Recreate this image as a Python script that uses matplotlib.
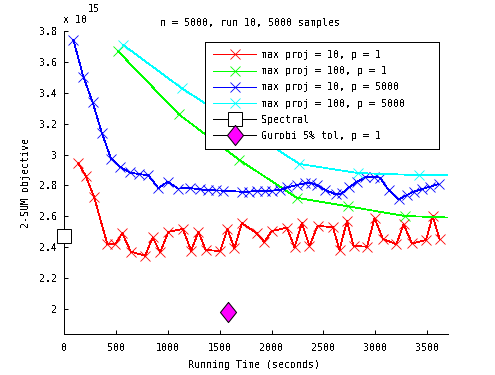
import matplotlib
matplotlib.use("Agg")
import matplotlib.pyplot as plt
from matplotlib.ticker import FuncFormatter

# values in units of 1e15
red_x = [138, 209, 289, 418, 492, 562, 643, 781, 855, 926, 1006, 1145, 1225, 1295,
         1366, 1504, 1575, 1642, 1714, 1858, 1929, 2003, 2148, 2221, 2292, 2365, 2443,
         2591, 2655, 2726, 2790, 2919, 2992, 3073, 3202, 3272, 3353, 3488, 3552, 3619]
red_y = [2.943, 2.863, 2.727, 2.419, 2.419, 2.490, 2.371, 2.345, 2.464, 2.367, 2.500,
         2.518, 2.377, 2.500, 2.382, 2.375, 2.516, 2.393, 2.556, 2.490, 2.435, 2.505,
         2.526, 2.399, 2.558, 2.408, 2.539, 2.529, 2.382, 2.569, 2.409, 2.403, 2.587,
         2.453, 2.419, 2.548, 2.425, 2.446, 2.602, 2.453]

green_x = [521, 1107, 1690, 2244, 2734, 3283, 3800]
green_y = [3.669, 3.260, 2.965, 2.720, 2.665, 2.602, 2.590]

blue_x = [90, 186, 275, 364, 453, 543, 632, 723, 810, 909, 998, 1099, 1215, 1307, 1384,
          1461, 1536, 1712, 1779, 1858, 1938, 2003, 2083, 2153, 2244, 2324, 2382, 2437,
          2517, 2620, 2678, 2748, 2823, 2903, 2983, 3047, 3127, 3224, 3305, 3368, 3449,
          3529, 3609]
blue_y = [3.742, 3.505, 3.340, 3.141, 2.974, 2.919, 2.884, 2.873, 2.867, 2.783, 2.824,
          2.780, 2.783, 2.775, 2.770, 2.768, 2.766, 2.759, 2.759, 2.766, 2.766, 2.766,
          2.770, 2.788, 2.803, 2.814, 2.814, 2.803, 2.770, 2.742, 2.749, 2.788, 2.824,
          2.852, 2.856, 2.850, 2.770, 2.710, 2.738, 2.759, 2.777, 2.792, 2.809]

cyan_x = [572, 1135, 2269, 2835, 3421, 3800]
cyan_y = [3.709, 3.429, 2.939, 2.880, 2.867, 2.866]

spectral_x = [0]
spectral_y = [2.472]
gurobi_x = [1579]
gurobi_y = [1.978]

labels = ["max proj = 10, p = 1", "max proj = 100, p = 1", "max proj = 10, p = 5000",
          "max proj = 100, p = 5000", "Spectral", "Gurobi 5% tol, p = 1"]

plt.rcParams["font.family"] = ["DejaVu Sans Mono"]
plt.rcParams["font.size"] = 7.2
plt.rcParams["text.antialiased"] = False
plt.rcParams["lines.antialiased"] = False
plt.rcParams["patch.antialiased"] = False

fig = plt.figure(figsize=(4.95, 3.75), dpi=100)
ax = fig.add_axes([64 / 495, 41 / 375, 384 / 495, 303 / 375])

lw = 0.55
mw = 0.6
ax.plot(red_x, red_y, "-x", color="#ff0000", lw=lw, ms=7, mew=mw, label=labels[0])
ax.plot(green_x, green_y, "-x", color="#00ff00", lw=lw, ms=7, mew=mw, label=labels[1])
ax.plot(blue_x, blue_y, "-x", color="#0000ff", lw=lw, ms=7, mew=mw, label=labels[2])
ax.plot(cyan_x, cyan_y, "-x", color="#00ffff", lw=lw, ms=7, mew=mw, label=labels[3])
ax.plot(spectral_x, spectral_y, "-s", color="black", mfc="white", mec="black",
        lw=lw, ms=9.5, mew=0.72, label=labels[4], clip_on=False, zorder=5)
diamond = [(0, 1), (0.8, 0), (0, -1), (-0.8, 0), (0, 1)]
ax.plot(gurobi_x, gurobi_y, "-", marker=diamond, color="black", mfc="#ff00ff",
        mec="black", lw=lw, ms=14.5, mew=0.72, label=labels[5])

ax.set_xlim(0, 3700)
ax.set_ylim(1.838, 3.8)
ax.set_xticks(range(0, 3501, 500))
ax.set_yticks([2.0, 2.2, 2.4, 2.6, 2.8, 3.0, 3.2, 3.4, 3.6, 3.8])
ax.yaxis.set_major_formatter(FuncFormatter(lambda v, p: "%g" % round(v, 1)))
ax.spines["top"].set_visible(False)
ax.spines["right"].set_visible(False)
ax.tick_params(direction="in", length=3, width=0.72, pad=5, labelsize=7.2)
ax.tick_params(axis="x", pad=6.5)
for s in ("left", "bottom"):
    ax.spines[s].set_linewidth(0.72)

leg = ax.legend(loc="upper left", bbox_to_anchor=(141 / 384, 1 - 14 / 303, 234 / 384, 0.01),
                mode="expand", frameon=True, fancybox=False, edgecolor="black",
                framealpha=1, handlelength=4.3, handletextpad=0.5, labelspacing=0.62,
                borderpad=0.8, borderaxespad=0, fontsize=7.2)
leg.get_frame().set_linewidth(0.72)

fig.text(250 / 495, 1 - 26 / 375, "n = 5000, run 10, 5000 samples", ha="center", va="baseline")
fig.text(63 / 495, 1 - 23 / 375, "x 10", ha="left", va="baseline")
fig.text(88 / 495, 1 - 12 / 375, "15", ha="left", va="baseline")
fig.text(26 / 495, 1 - 183 / 375, "2-SUM objective", rotation=90, ha="center", va="center")
fig.text(254 / 495, 1 - 365 / 375, "Running Time (seconds)", ha="center", va="center")

fig.savefig("out.png", dpi=100)
